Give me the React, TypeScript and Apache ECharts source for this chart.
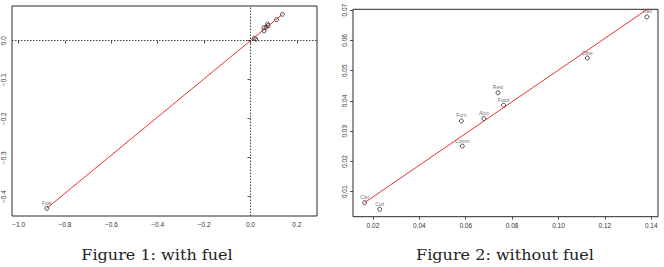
import React, { useEffect, useRef } from "react";
import * as echarts from "echarts";

// Items (abbreviated category names)
const categories = ["Clot", "Cult", "Comm", "Furn", "Alco", "Rest", "Food", "Othe", "Tran"];
const xValues = [0.0164, 0.0229, 0.0585, 0.0581, 0.0678, 0.0739, 0.0763, 0.1124, 0.1381];
const yValues = [0.0064, 0.0042, 0.0251, 0.0334, 0.0342, 0.0427, 0.0386, 0.0542, 0.0678];
const fuelName = "Fuel";
const fuelX = -0.8786;
const fuelY = -0.4297;

// fitted line end points
const leftLineX = [-0.8786, 0.1381];
const leftLineY = [-0.4297, 0.0678];
const rightLineX = [0.0164, 0.1381];
const rightLineY = [0.0064, 0.0702];

// tick values
const leftXTicks = [-1.0, -0.8, -0.6, -0.4, -0.2, 0.0, 0.2];
const leftYTicks = [-0.4, -0.3, -0.2, -0.1, 0.0];
const rightXTicks = [0.02, 0.04, 0.06, 0.08, 0.1, 0.12, 0.14];
const rightYTicks = [0.01, 0.02, 0.03, 0.04, 0.05, 0.06, 0.07];

const captions = ["Figure 1: with fuel", "Figure 2: without fuel"];

const AXC = "#2a2a2a";
const FONT = "Liberation Sans";

function fmt(d: number) {
  return (v: number) => {
    const s = Number(v).toFixed(d);
    return s.replace("-", "\u2212");
  };
}

function makeAxis(grid: number, min: number, max: number, ticks: number[], dec: number, isY: boolean) {
  return {
    type: "value",
    gridIndex: grid,
    min,
    max,
    splitLine: { show: false },
    axisLine: { show: false },
    axisTick: {
      show: true,
      inside: false,
      length: 3,
      customValues: ticks,
      lineStyle: { color: AXC, width: 0.8 },
    },
    axisLabel: {
      show: true,
      customValues: ticks,
      formatter: fmt(dec),
      fontSize: 6.5,
      fontFamily: FONT,
      color: "#333",
      margin: 5,
      rotate: isY ? 90 : 0,
      showMinLabel: true,
      showMaxLabel: true,
    },
  };
}

export default function App() {
  const ref = useRef<HTMLDivElement>(null);
  useEffect(() => {
    if (!ref.current) return;
    const chart = echarts.init(ref.current, null, { renderer: "svg" });
    const allPts = categories.map((c, i) => ({ name: c, value: [xValues[i], yValues[i]] }));
    const pointStyle = {
      color: "rgba(0,0,0,0)",
      borderColor: "#222",
      borderWidth: 1,
    };
    const ptLabel = {
      show: true,
      position: "top",
      distance: 0.5,
      formatter: "{b}",
      fontSize: 5,
      fontFamily: FONT,
      color: "#444",
    };
    const capStyle = (t: string) => ({
      text: t,
      font: "15px 'DejaVu Serif'",
      fill: "#222",
      textAlign: "center",
      textVerticalAlign: "middle",
    });
    const option: any = {
      animation: false,
      grid: [
        { left: 10, top: 6, width: 307, height: 210, show: true, borderColor: AXC, borderWidth: 1, backgroundColor: "transparent" },
        { left: 353, top: 9.3, width: 305, height: 207.4, show: true, borderColor: AXC, borderWidth: 1, backgroundColor: "transparent" },
      ],
      xAxis: [
        makeAxis(0, -1.0286, 0.287, leftXTicks, 1, false),
        makeAxis(1, 0.0114, 0.1429, rightXTicks, 2, false),
      ],
      yAxis: [
        makeAxis(0, -0.4495, 0.089, leftYTicks, 1, true),
        makeAxis(1, 0.00175, 0.0703, rightYTicks, 2, true),
      ],
      series: [
        {
          type: "line",
          xAxisIndex: 0,
          yAxisIndex: 0,
          data: leftLineX.map((x, i) => [x, leftLineY[i]]),
          symbol: "none",
          lineStyle: { color: "#e8322e", width: 1 },
          silent: true,
          markLine: {
            silent: true,
            symbol: "none",
            label: { show: false },
            lineStyle: { color: "#333", type: [1.5, 1.5], width: 0.9 },
            data: [{ xAxis: 0 }, { yAxis: 0 }],
          },
        },
        {
          type: "scatter",
          xAxisIndex: 0,
          yAxisIndex: 0,
          symbol: "circle",
          symbolSize: 4,
          itemStyle: pointStyle,
          data: allPts.map((p) => ({ ...p, label: { show: false } })),
        },
        {
          type: "scatter",
          xAxisIndex: 0,
          yAxisIndex: 0,
          symbol: "circle",
          symbolSize: 4,
          itemStyle: pointStyle,
          label: ptLabel,
          data: [{ name: fuelName, value: [fuelX, fuelY] }],
        },
        {
          type: "line",
          xAxisIndex: 1,
          yAxisIndex: 1,
          data: rightLineX.map((x, i) => [x, rightLineY[i]]),
          symbol: "none",
          lineStyle: { color: "#e8322e", width: 1 },
          silent: true,
        },
        {
          type: "scatter",
          xAxisIndex: 1,
          yAxisIndex: 1,
          symbol: "circle",
          symbolSize: 4,
          itemStyle: pointStyle,
          label: ptLabel,
          data: allPts,
        },
      ],
      graphic: [
        { type: "text", x: 157, y: 255, scaleX: 1.07, style: capStyle(captions[0]) },
        { type: "text", x: 505, y: 255, scaleX: 1.07, style: capStyle(captions[1]) },
      ],
    };
    chart.setOption(option);
    return () => chart.dispose();
  }, []);
  return (
    <div
      ref={ref}
      style={{ position: "absolute", left: 0, top: 0, width: 664, height: 267 }}
    />
  );
}
